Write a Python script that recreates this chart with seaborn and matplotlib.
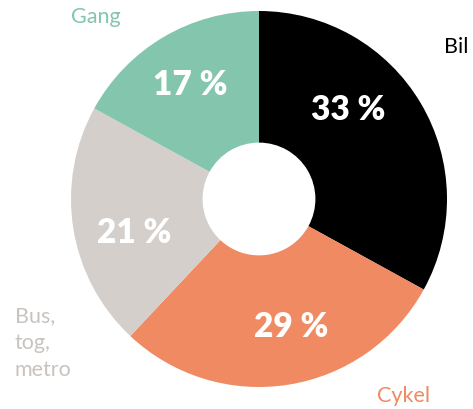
import matplotlib
matplotlib.use('Agg')
import matplotlib.pyplot as plt
import seaborn as sns
import numpy as np

# transport mode shares (%)
modes = ['Bil', 'Cykel', 'Bus,\ntog,\nmetro', 'Gang']
shares = [33, 29, 21, 17]
colors = ['#000000', '#EF8A62', '#D4CFCB', '#84C5AE']
label_colors = ['#000000', '#EF8A62', '#C9C3BF', '#84C5AE']

sns.set_theme(style='white')
plt.rcParams['font.family'] = ['Lato', 'DejaVu Sans']

fig = plt.figure(figsize=(4.73, 4.09), dpi=100)
ax = fig.add_axes([0, 0, 1, 1])

wedges, _ = ax.pie(shares, colors=colors, startangle=90, counterclock=False,
                   radius=1.0, wedgeprops=dict(width=0.70, linewidth=0))

# percentage labels inside the ring (angle in degrees, radius)
pct_pos = [(45, 0.67), (-76, 0.70), (195, 0.69), (121, 0.71)]
for (ang, r), v in zip(pct_pos, shares):
    a = np.deg2rad(ang)
    ax.text(r * np.cos(a), r * np.sin(a), f'{v} %', color='white', fontsize=24,
            fontweight='heavy', ha='center', va='center')

# category names outside the ring
name_pos = [(0.985, 0.81), (0.628, -1.048), (-1.30, -0.766), (-1.00, 0.968)]
for (x, y), name, c in zip(name_pos, modes, label_colors):
    ax.text(x, y, name, color=c, fontsize=15.5, ha='left', va='center', linespacing=1.45)

ax.set_xlim(-259 / 188, (473 - 259) / 188)
ax.set_ylim((199 - 409) / 188, 199 / 188)
ax.set_aspect('auto')
ax.axis('off')

fig.savefig('out.png', dpi=100)
